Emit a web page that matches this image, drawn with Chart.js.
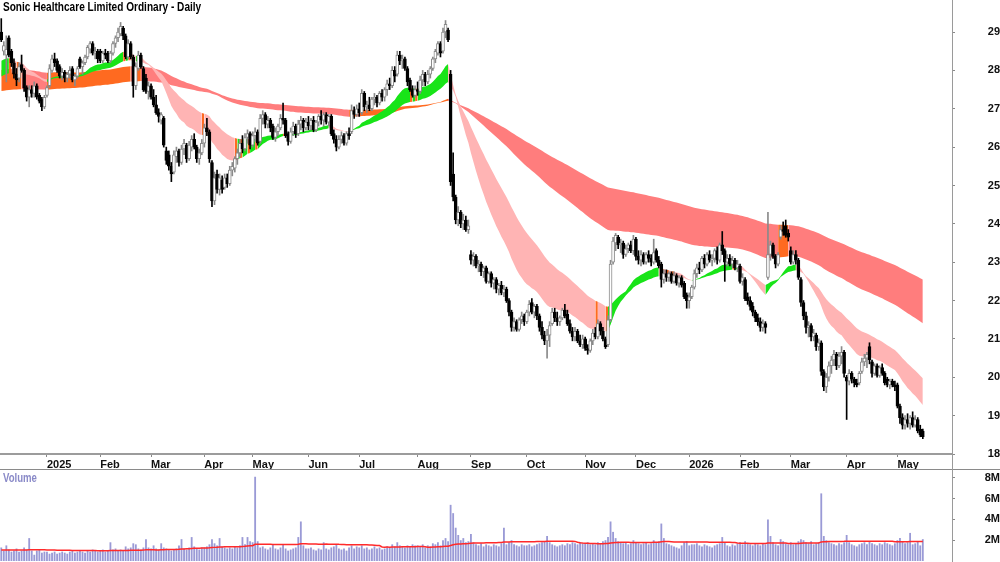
<!DOCTYPE html>
<html><head><meta charset="utf-8">
<script src="https://cdn.jsdelivr.net/npm/chart.js@4.4.1/dist/chart.umd.min.js"></script>
<style>
html,body{margin:0;padding:0;background:#fff;}
#wrap{position:relative;width:1000px;height:562px;overflow:hidden;font-family:"Liberation Sans",Arial,sans-serif;}
#price{position:absolute;left:0;top:0;}
#vol{position:absolute;left:0;top:470px;}
#sep{position:absolute;left:0;top:469px;width:1000px;height:1px;background:#8a8a8a;}
#vline{position:absolute;left:952px;top:0;width:1px;height:562px;background:#9a9a9a;}
#title{position:absolute;left:3px;top:0;line-height:14px;font-weight:bold;font-size:12.6px;color:#000;transform:scaleX(0.8);transform-origin:0 0;white-space:nowrap;}
#vlabel{position:absolute;left:3px;top:471px;line-height:14px;font-weight:bold;font-size:12px;color:#8a8ac8;transform:scaleX(0.8);transform-origin:0 0;}
</style></head>
<body><div id="wrap">
<canvas id="price" width="1000" height="469"></canvas>
<div id="sep"></div>
<canvas id="vol" width="1000" height="92"></canvas>
<div id="vline"></div>
<div id="title">Sonic Healthcare Limited Ordinary - Daily</div>
<div id="vlabel">Volume</div>
</div>
<script>
// ---- categories ----
const firstDay = [2024, 11, 4];
const totalSlots = 375;
const holidays = ['2024-12-25','2024-12-26','2025-01-01','2025-01-27','2025-04-18','2025-04-21','2025-04-25','2025-06-09','2025-12-25','2025-12-26','2026-01-01','2026-01-26','2026-04-03','2026-04-06'];
const monthAbbr = ['Jan','Feb','Mar','Apr','May','Jun','Jul','Aug','Sep','Oct','Nov','Dec'];

// ---- series (daily OHLC, volume in millions) ----
const opens = [
29.0,28.5,28.4,28.85,28.5,28.2,27.9,27.8,28.15,28.0,27.55,27.3,27.5,27.4,27.6,27.35,27.25,27.05,
27.35,27.6,28.0,28.3,28.25,28.1,27.85,27.95,27.8,27.9,28.05,27.75,27.85,28.3,28.1,28.2,28.35,28.55,28.7,28.45,28.5,
28.5,28.25,28.45,28.45,28.25,28.45,28.7,28.85,28.95,29.1,28.9,28.35,28.7,28.35,27.6,28.05,28.4,28.05,27.8,27.45,
27.6,27.3,27.1,26.9,26.7,26.75,25.9,25.8,25.5,25.35,25.75,25.9,25.6,25.95,26.05,25.7,26.0,26.2,26.0,25.7,25.85,
26.1,26.5,26.4,25.6,24.6,25.3,24.9,25.15,24.95,25.2,25.05,25.4,25.45,25.7,25.85,26.1,25.95,26.25,26.35,
26.05,26.3,26.4,26.15,26.75,26.85,26.6,26.7,26.55,26.25,26.4,26.5,26.75,26.7,26.35,26.15,26.4,26.55,26.35,26.6,26.7,26.5,
26.65,26.55,26.7,26.45,26.65,26.8,26.7,26.85,26.65,26.8,26.35,26.2,26.0,26.2,26.3,26.1,26.35,26.4,26.95,26.85,
27.0,26.9,27.4,27.05,27.1,27.0,27.25,27.3,27.15,27.4,27.3,27.5,27.65,27.6,28.0,27.9,28.4,28.25,28.3,28.05,27.75,27.5,27.35,
27.5,27.45,27.75,27.9,27.7,27.9,28.05,28.3,28.45,28.7,28.5,29.0,29.05,27.9,25.3,24.7,24.1,24.3,24.0,24.1,23.85,
23.2,23.05,23.15,22.9,22.95,22.75,22.85,22.5,22.7,22.45,22.55,22.3,22.4,22.2,22.3,22.0,21.7,21.3,21.45,21.25,21.5,21.6,
21.45,21.7,21.95,21.7,21.85,21.6,21.3,21.1,20.95,21.1,21.4,21.7,21.55,21.45,21.55,21.75,21.65,21.4,21.2,21.05,21.2,20.95,20.85,
21.0,20.75,20.7,20.95,21.15,21.05,21.4,21.2,21.0,20.85,21.5,23.0,23.5,23.65,23.45,23.5,23.2,23.35,23.45,23.3,
23.6,23.15,23.05,23.2,23.0,23.2,23.1,23.0,23.3,23.05,22.95,22.55,22.7,22.6,22.7,22.5,22.65,22.45,22.6,22.45,22.15,
22.0,22.1,22.35,22.7,22.85,22.8,23.1,22.95,23.2,23.05,23.1,23.3,23.05,23.45,23.3,23.0,23.1,22.95,23.05,22.85,
22.9,22.5,22.55,22.1,22.0,21.85,21.7,21.55,21.45,21.3,21.4,22.6,23.2,23.45,23.15,22.95,23.65,23.85,23.95,23.75,
23.3,23.0,23.2,23.05,22.55,21.95,21.6,21.3,21.35,21.05,21.1,20.8,20.9,20.15,19.75,20.0,20.3,20.45,20.6,20.3,20.55,20.65,
20.0,19.9,20.1,19.95,19.85,19.85,20.15,20.4,20.5,20.8,20.4,20.1,20.3,20.05,20.25,20.1,19.95,19.8,19.9,19.8,
19.8,19.25,18.95,18.75,18.9,18.8,18.95,18.75,18.9,18.65,18.6];
const highs = [
29.35,28.75,28.9,28.9,28.55,28.3,28.05,28.2,28.4,28.05,27.6,27.6,27.6,27.7,27.65,27.4,27.3,27.35,
27.6,28.15,28.4,28.45,28.3,28.15,28.05,28.0,27.95,28.1,28.1,27.9,28.1,28.35,28.25,28.4,28.65,28.75,28.75,28.6,28.55,
28.55,28.5,28.55,28.5,28.5,28.75,28.9,29.1,29.25,29.15,28.95,28.8,28.75,28.4,28.2,28.5,28.45,28.1,27.9,27.7,
27.65,27.5,27.35,27.0,26.9,26.8,26.0,25.9,25.6,25.9,26.0,25.95,26.05,26.2,26.1,26.15,26.3,26.35,26.05,25.95,26.2,
26.6,26.75,26.45,25.65,25.35,25.4,25.3,25.25,25.3,25.3,25.5,25.6,25.75,25.95,26.2,26.3,26.35,26.45,26.4,
26.4,26.5,26.45,26.85,26.95,26.9,26.8,26.75,26.6,26.5,26.6,26.85,27.15,26.75,26.4,26.5,26.65,26.6,26.7,26.8,26.75,26.75,
26.8,26.75,26.8,26.7,26.85,26.95,26.9,26.9,26.85,26.85,26.45,26.3,26.3,26.4,26.35,26.4,26.5,27.1,27.05,27.1,
27.15,27.5,27.45,27.2,27.3,27.3,27.4,27.35,27.45,27.5,27.55,27.75,27.8,28.1,28.1,28.5,28.5,28.4,28.35,28.1,27.8,27.6,27.6,
27.7,27.85,28.0,27.95,28.0,28.1,28.35,28.55,28.75,28.75,29.1,29.3,29.1,28.0,25.85,24.75,24.45,24.35,24.25,24.2,24.1,
23.3,23.25,23.2,23.05,23.0,22.9,22.9,22.75,22.75,22.6,22.6,22.45,22.5,22.4,22.35,22.05,21.75,21.55,21.5,21.55,21.7,21.65,
21.75,22.0,22.05,21.9,21.9,21.65,21.45,21.2,21.25,21.45,21.8,21.8,21.7,21.6,21.8,21.9,21.75,21.5,21.3,21.3,21.25,21.1,21.1,
21.05,20.85,21.0,21.25,21.3,21.5,21.45,21.3,21.05,21.6,23.05,23.65,23.75,23.7,23.6,23.55,23.45,23.5,23.55,23.7,
23.65,23.3,23.3,23.25,23.25,23.3,23.2,23.6,23.35,23.15,23.0,22.8,22.8,22.75,22.75,22.75,22.7,22.65,22.65,22.5,22.2,
22.2,22.4,22.8,22.95,23.0,23.15,23.2,23.25,23.3,23.2,23.35,23.4,23.5,23.8,23.35,23.2,23.2,23.15,23.1,23.05,
22.95,22.7,22.6,22.2,22.1,21.95,21.75,21.65,21.55,21.5,21.45,24.3,23.55,23.5,23.2,23.25,23.95,24.05,24.1,23.85,
23.4,23.3,23.3,23.1,22.6,22.0,21.7,21.45,21.4,21.25,21.15,21.0,20.95,20.2,20.1,20.4,20.55,20.7,20.65,20.65,20.8,20.7,
20.05,20.2,20.15,20.0,19.95,20.15,20.5,20.6,20.65,20.9,20.45,20.35,20.35,20.3,20.35,20.15,20.0,19.95,19.95,19.9,
19.85,19.3,19.05,19.0,19.05,19.0,19.1,19.0,18.95,18.75,18.65];
const lows = [
28.75,28.4,27.7,28.35,28.1,27.8,27.6,27.7,27.95,27.45,27.2,27.05,27.3,27.3,27.25,27.15,26.95,27.0,
27.3,27.55,27.95,28.1,27.95,27.8,27.75,27.7,27.7,27.8,27.7,27.6,27.8,28.05,27.9,28.15,28.3,28.45,28.4,28.3,28.2,
28.2,28.2,28.3,28.2,28.2,28.4,28.6,28.75,28.9,28.8,28.3,28.3,28.3,27.3,27.5,28.0,28.05,27.45,27.4,27.25,
27.25,27.05,26.85,26.65,26.6,26.0,25.55,25.4,25.1,25.3,25.6,25.5,25.55,25.8,25.6,25.65,25.9,25.95,25.6,25.55,25.8,
26.0,26.3,25.6,24.45,24.5,24.8,24.75,24.8,24.9,24.95,25.0,25.25,25.35,25.55,25.75,25.85,25.9,26.1,25.95,
26.0,26.15,26.05,26.1,26.6,26.5,26.5,26.4,26.2,26.15,26.3,26.45,26.6,26.25,26.05,26.1,26.3,26.25,26.3,26.45,26.4,26.45,
26.45,26.45,26.4,26.4,26.55,26.6,26.55,26.6,26.55,26.3,26.1,25.9,25.95,26.1,26.05,26.05,26.2,26.35,26.75,26.8,
26.8,26.85,26.95,26.9,26.95,26.95,27.1,27.05,27.1,27.2,27.2,27.35,27.5,27.55,27.7,27.85,28.15,28.05,28.0,27.6,27.45,27.3,27.3,
27.35,27.4,27.6,27.6,27.65,27.8,28.0,28.2,28.4,28.35,28.45,28.85,28.75,25.0,24.6,24.0,23.95,23.9,23.85,23.8,23.75,
22.95,22.9,22.85,22.75,22.65,22.6,22.45,22.45,22.35,22.3,22.2,22.15,22.15,22.1,21.95,21.6,21.2,21.2,21.2,21.2,21.4,21.35,
21.4,21.6,21.65,21.55,21.5,21.2,21.0,20.85,20.5,20.8,21.35,21.45,21.35,21.35,21.5,21.55,21.35,21.15,20.95,20.95,20.9,20.8,20.75,
20.7,20.6,20.65,20.85,21.0,21.0,21.1,20.95,20.75,20.8,21.45,22.95,23.3,23.35,23.25,23.1,23.15,23.25,23.25,23.2,
23.05,22.95,22.9,22.95,22.95,23.0,22.9,22.95,23.0,22.85,22.35,22.45,22.5,22.5,22.45,22.45,22.4,22.35,22.35,22.05,21.8,
21.8,22.05,22.3,22.6,22.7,22.75,22.85,22.9,23.0,22.9,23.0,22.95,23.0,23.2,22.5,22.9,22.9,22.85,22.8,22.75,
22.45,22.4,22.0,21.9,21.75,21.6,21.45,21.35,21.2,21.2,21.15,22.55,23.05,23.1,22.85,22.9,23.6,23.7,23.65,23.55,
22.95,22.95,22.95,22.55,21.85,21.5,21.15,21.05,20.95,20.95,20.7,20.7,20.05,19.65,19.6,19.9,20.1,20.3,20.2,20.25,20.35,20.0,
18.9,19.8,19.85,19.75,19.75,19.8,20.1,20.3,20.25,20.35,20.0,20.05,20.0,20.0,20.05,19.8,19.75,19.7,19.75,19.65,
19.2,18.8,18.65,18.65,18.7,18.65,18.7,18.7,18.55,18.45,18.4];
const closes = [
28.8,28.65,28.55,28.4,28.2,27.9,27.75,28.1,28.0,27.55,27.3,27.5,27.4,27.6,27.3,27.2,27.05,27.3,
27.55,28.05,28.3,28.2,28.0,27.85,27.95,27.8,27.9,28.0,27.75,27.85,28.05,28.1,28.2,28.35,28.6,28.7,28.45,28.5,28.3,
28.25,28.45,28.4,28.25,28.45,28.7,28.85,29.0,29.15,28.9,28.35,28.7,28.35,27.6,28.1,28.4,28.1,27.5,27.45,27.6,
27.3,27.1,26.9,26.8,26.85,26.05,25.65,25.5,25.3,25.8,25.9,25.6,25.95,26.1,25.7,26.05,26.2,26.0,25.7,25.85,26.1,
26.5,26.4,25.7,24.6,25.2,24.9,25.2,24.9,25.2,25.05,25.4,25.5,25.7,25.85,26.1,25.95,26.25,26.35,26.05,
26.3,26.4,26.1,26.75,26.85,26.6,26.7,26.5,26.25,26.4,26.55,26.75,26.7,26.3,26.15,26.4,26.55,26.35,26.6,26.7,26.5,26.65,
26.55,26.7,26.45,26.65,26.8,26.7,26.85,26.65,26.8,26.35,26.2,26.0,26.2,26.3,26.1,26.35,26.3,26.95,26.85,27.0,
26.9,27.4,27.05,27.1,27.0,27.25,27.3,27.15,27.4,27.3,27.5,27.65,27.6,28.0,27.85,28.4,28.25,28.3,28.05,27.7,27.5,27.35,27.5,
27.45,27.75,27.9,27.7,27.9,28.05,28.3,28.5,28.7,28.45,29.0,29.2,28.8,25.1,24.7,24.1,24.3,24.0,24.1,23.85,23.95,
23.05,23.15,22.9,22.95,22.75,22.85,22.5,22.7,22.45,22.55,22.3,22.4,22.2,22.3,22.0,21.7,21.3,21.45,21.25,21.5,21.6,21.45,
21.7,21.9,21.7,21.85,21.6,21.3,21.1,20.95,21.1,21.35,21.7,21.55,21.45,21.55,21.75,21.6,21.4,21.2,21.05,21.2,20.95,20.85,21.0,
20.75,20.7,20.95,21.15,21.05,21.4,21.2,21.0,20.8,21.5,22.95,23.55,23.7,23.45,23.5,23.2,23.35,23.45,23.3,23.6,
23.15,23.05,23.2,23.0,23.2,23.1,23.0,23.25,23.05,22.9,22.55,22.7,22.6,22.7,22.5,22.65,22.45,22.6,22.4,22.1,22.0,
22.1,22.35,22.7,22.85,22.8,23.1,22.95,23.2,23.05,23.1,23.3,23.05,23.45,23.3,23.0,23.1,22.95,23.05,22.85,22.95,
22.5,22.6,22.05,22.0,21.85,21.7,21.55,21.45,21.3,21.4,21.3,23.2,23.45,23.15,22.95,23.2,23.85,23.8,23.7,23.65,
23.0,23.2,23.05,22.6,21.95,21.6,21.3,21.35,21.05,21.15,20.8,20.9,20.15,19.75,20.0,20.3,20.45,20.6,20.3,20.55,20.65,20.1,
19.9,20.1,19.95,19.85,19.8,20.1,20.4,20.5,20.6,20.45,20.1,20.3,20.05,20.25,20.1,19.85,19.8,19.9,19.8,19.75,
19.25,18.95,18.75,18.9,18.8,18.95,18.75,18.9,18.6,18.5,18.45];
const volumes = [
1.3,1.0,1.5,1.1,0.9,1.0,1.2,0.9,1.0,1.3,1.1,2.2,1.0,0.6,1.0,1.1,0.8,0.9,
0.9,0.7,0.8,0.9,0.7,0.8,0.9,0.8,0.7,0.9,1.0,0.8,0.9,1.0,0.9,0.8,1.0,0.9,1.1,1.0,0.9,
1.0,1.1,0.9,1.0,1.8,1.1,1.2,1.0,1.1,1.0,1.4,1.2,1.3,1.7,1.6,1.2,1.1,1.3,2.1,1.3,
1.2,1.5,1.2,1.1,1.7,1.3,1.2,1.1,1.0,1.1,1.2,1.5,2.1,1.2,1.1,1.3,2.3,1.4,1.2,1.1,1.3,
1.3,1.4,1.6,2.1,1.7,1.5,2.2,1.4,1.3,1.2,1.3,1.2,1.4,1.3,1.5,2.3,1.6,2.3,1.9,
1.8,8.1,1.9,1.3,1.4,1.2,1.1,1.3,1.6,1.2,1.1,1.3,1.6,1.2,1.0,1.1,1.2,1.3,2.3,3.8,1.5,1.2,
1.2,1.3,1.1,1.0,1.2,1.1,1.8,1.2,1.1,1.3,1.4,1.6,1.2,1.1,1.2,1.0,1.3,1.5,1.2,1.4,
1.3,1.5,1.2,1.3,1.1,1.2,1.4,1.2,1.3,1.1,1.2,1.4,1.3,1.6,1.4,1.8,1.5,1.4,1.3,1.5,1.4,1.6,1.5,
1.5,1.4,1.6,1.3,1.5,1.4,1.7,1.6,1.8,1.5,2.0,2.2,1.9,5.4,4.6,3.2,2.5,2.0,2.2,1.8,1.9,
2.6,1.8,1.6,1.5,1.7,1.4,1.6,1.5,1.4,1.6,1.5,1.4,1.7,3.2,1.6,1.8,2.0,1.6,1.5,1.4,1.6,1.5,
1.5,1.6,1.4,1.5,1.6,1.7,1.8,1.9,2.4,1.8,1.6,1.5,1.4,1.5,1.6,1.5,1.7,1.6,1.8,1.7,1.6,1.8,1.7,
1.7,1.8,1.6,1.7,1.6,1.8,1.7,1.9,2.0,2.3,3.8,2.8,2.2,1.9,1.8,1.7,1.8,1.6,1.7,2.0,
1.8,1.7,1.6,1.7,1.8,1.6,1.7,2.0,1.8,1.9,3.6,2.2,1.7,1.6,1.5,1.4,1.3,1.2,1.5,1.8,1.9,
1.5,1.6,1.6,1.7,1.5,1.4,1.6,1.5,1.4,1.3,1.5,1.6,1.7,2.3,1.8,1.5,1.4,1.6,1.5,1.7,
1.8,1.6,1.9,1.7,1.6,1.5,1.7,1.6,1.5,1.7,1.6,4.0,2.4,1.8,1.6,1.5,2.1,1.9,1.7,1.6,
1.8,1.6,1.7,1.9,2.1,2.0,1.8,1.7,1.9,1.6,1.7,1.8,6.5,2.4,2.0,1.8,1.7,1.6,1.5,1.7,1.6,1.8,
2.5,1.8,1.6,1.5,1.4,1.6,1.7,1.8,1.6,1.9,1.7,1.6,1.5,1.7,1.6,1.8,1.7,1.6,1.5,1.7,
2.0,2.2,1.9,1.7,1.8,2.7,1.6,1.7,1.9,1.5,2.1];

// ---- ribbon settings (EMA periods and starting values read at the left edge) ----
const shortPeriods = [22,26,30,35,40,46];
const shortSeeds   = [28.2,28.12,28.04,27.96,27.88,27.8];
const longPeriods  = [130,150,170,190,210,230];
const longSeeds    = [28.0,27.89,27.78,27.67,27.56,27.45];
const volAvgPeriod = 50, volAvgSeed = 1.05;

const GREEN='#18e418', PINK='#ffb4b4', ORANGE='#ff6a20', RED='#ff7d7d', UPC='#8a8a8a';
const FONT = {family:'"Liberation Sans", Arial, sans-serif', size:11, weight:'bold'};

// build trading-day categories
const dates = [];
{ const d = new Date(Date.UTC(firstDay[0], firstDay[1], firstDay[2]));
  while (dates.length < totalSlots) {
    const dow = d.getUTCDay(), iso = d.toISOString().slice(0,10);
    if (dow !== 0 && dow !== 6 && !holidays.includes(iso)) dates.push(iso);
    d.setUTCDate(d.getUTCDate() + 1);
  } }
const tickText = {};
dates.forEach((d,i) => {
  if (i === 0 || i >= closes.length) return;
  if (d.slice(5,7) !== dates[i-1].slice(5,7)) {
    const m = +d.slice(5,7) - 1;
    tickText[i] = m === 0 ? d.slice(0,4) : monthAbbr[m];
  }
});
if ([opens,highs,lows,volumes].some(a => a.length !== closes.length)) console.error('length mismatch', opens.length, highs.length, lows.length, closes.length, volumes.length);

function ema(src, p, seed){ const k = 2/(p+1); let e = seed; return src.map(v => (e += k*(v-e))); }
function ribbon(periods, seeds){
  const lines = periods.map((p,j) => ema(closes, p, seeds[j]));
  const hi=[], lo=[], rising=[];
  for (let i=0;i<closes.length;i++){
    const vals = lines.map(l => l[i]);
    hi.push(Math.max(...vals)); lo.push(Math.min(...vals));
    let r=0;
    lines.forEach((l,j) => { const prev = i ? l[i-1] : seeds[j]; if (l[i] > prev) r++; });
    rising.push(r);
  }
  return {hi, lo, rising, n: lines.length};
}
const sb = ribbon(shortPeriods, shortSeeds);
const lb = ribbon(longPeriods, longSeeds);
const shortCol = sb.rising.map(r => r >= sb.n - 1 ? GREEN : (r <= 1 ? PINK : ORANGE));
const longCol  = lb.rising.map(r => r >= lb.n / 2 ? ORANGE : RED);
const isUp = closes.map((c,i) => c >= opens[i]);
const volAvg = volumes.map((v,i) => { let s=0; for (let k=i-volAvgPeriod+1;k<=i;k++) s += k>=0 ? volumes[k] : volAvgSeed; return s/volAvgPeriod; });

const bandLine = (data, order, fill, cols) => ({
  type:'line', data, order, fill, pointRadius:0, borderWidth:0, borderColor:'rgba(0,0,0,0)',
  backgroundColor: cols ? cols[0] : 'rgba(0,0,0,0)', tension:0,
  segment: cols ? {backgroundColor: c => cols[c.p1DataIndex]} : undefined
});

new Chart(document.getElementById('price'), {
  type:'bar',
  data:{ labels:dates, datasets:[
    {type:'bar', data:opens.map((o,i)=>[o,closes[i]]), backgroundColor:isUp.map(u=>u?'#ffffff':'#000000'),
     borderColor:isUp.map(u=>u?UPC:'#000000'), borderWidth:1, borderSkipped:false, barThickness:3, grouped:false, minBarLength:1, order:0},
    {type:'bar', data:lows.map((l,i)=>[l,highs[i]]), backgroundColor:isUp.map(u=>u?UPC:'#000000'),
     borderWidth:0, barThickness:1, grouped:false, order:1},
    bandLine(sb.hi, 2, '+1', shortCol),
    bandLine(sb.lo, 3, false, null),
    bandLine(lb.hi, 4, '+1', longCol),
    bandLine(lb.lo, 5, false, null)
  ]},
  options:{
    responsive:false, animation:false, events:[], layout:{padding:0},
    plugins:{legend:{display:false}, tooltip:{enabled:false}},
    scales:{
      x:{ type:'category', offset:true,
        grid:{drawOnChartArea:false, drawTicks:true, tickLength:3, color:'#888', offset:false},
        border:{display:true, color:'#9c9c9c', width:2},
        ticks:{autoSkip:false, maxRotation:0, minRotation:0, align:'start', padding:1, color:'#111', font:FONT,
          callback:(v)=> tickText[v] ?? ''},
        afterBuildTicks:s=>{ s.ticks = s.ticks.filter(t => tickText[t.value] !== undefined); },
        afterFit:s=>{ s.height = 15; s.paddingLeft = 0; s.paddingRight = 0; }
      },
      y:{ position:'right', min:18, max:29.835,
        ticks:{stepSize:1, includeBounds:false, crossAlign:'far', padding:31, color:'#111', font:FONT},
        grid:{drawOnChartArea:false, drawTicks:true, tickLength:3, color:'#888'},
        border:{display:true, color:'#9a9a9a'},
        afterBuildTicks:s=>{ s.ticks = s.ticks.filter(t => Number.isInteger(t.value)); },
        afterFit:s=>{ s.width = 48; s.paddingTop = 0; s.paddingBottom = 0; }
      }
    }
  }
});

new Chart(document.getElementById('vol'), {
  type:'bar',
  data:{ labels:dates, datasets:[
    {type:'line', data:volAvg, borderColor:'#ff2a2a', borderWidth:1.5, pointRadius:0, fill:false, tension:0, order:0},
    {type:'bar', data:volumes, backgroundColor:'#9a9ad6', barPercentage:0.72, categoryPercentage:1, order:1}
  ]},
  options:{
    responsive:false, animation:false, events:[], layout:{padding:{bottom:1}},
    plugins:{legend:{display:false}, tooltip:{enabled:false}},
    scales:{
      x:{display:false, offset:true},
      y:{ position:'right', min:0, max:8.75,
        ticks:{crossAlign:'far', padding:28, color:'#111', font:FONT, callback:v=>v+'M'},
        grid:{drawOnChartArea:false, drawTicks:true, tickLength:3, color:'#888'},
        border:{display:true, color:'#9a9a9a'},
        afterBuildTicks:s=>{ s.ticks = [2,4,6,8].map(v=>({value:v})); },
        afterFit:s=>{ s.width = 48; s.paddingTop = 0; s.paddingBottom = 0; }
      }
    }
  }
});
</script>
</body></html>
